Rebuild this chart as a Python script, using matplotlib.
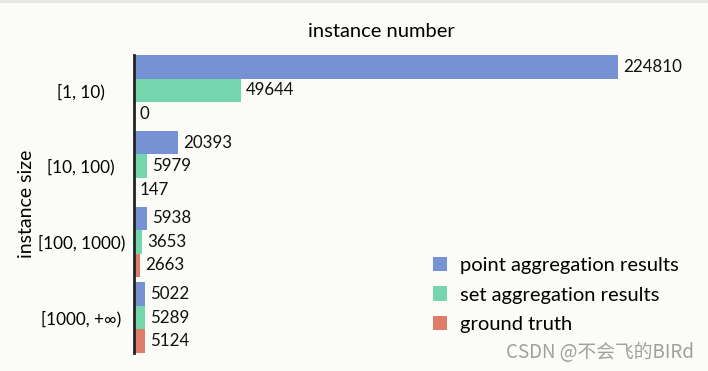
import matplotlib
matplotlib.use("Agg")
import matplotlib.pyplot as plt
import numpy as np
from matplotlib.patches import Patch

categories = ["[1, 10)", "[10, 100)", "[100, 1000)", "[1000, +∞)"]
series_names = ["point aggregation results", "set aggregation results", "ground truth"]
point_vals = [224810, 20393, 5938, 5022]
set_vals = [49644, 5979, 3653, 5289]
truth_vals = [0, 147, 2663, 5124]
colors = ["#7691d4", "#75d5ad", "#df7c6a"]

plt.rcParams['font.family'] = ['Lato', 'DejaVu Sans']

W, H = 708, 371
fig = plt.figure(figsize=(W / 100, H / 100), dpi=100)
fig.patch.set_facecolor("#fbfbf7")
ax = fig.add_axes([134 / W, 1 - 353 / H, (628 - 134) / W, (353 - 55) / H])
ax.set_facecolor("#fbfbf7")

h = 0.311
y = np.arange(len(categories))
all_vals = [point_vals, set_vals, truth_vals]
for k, (vals, c) in enumerate(zip(all_vals, colors)):
    pos = y + (k - 1) * h
    ax.barh(pos, vals, height=h, color=c, edgecolor="none")
    for p, v in zip(pos, vals):
        ax.annotate(f"{v}", xy=(v, p), xytext=(5, 0), textcoords="offset pixels",
                    va="center", ha="left", fontsize=12.2, color="#111111",
                    annotation_clip=False)

ax.set_ylim(3 + 1.5 * h, -1.5 * h)
ax.set_xlim(0, 229455)
ax.set_yticks(y)
ax.set_yticklabels(categories, fontsize=12.3, ha="center")
ax.tick_params(axis="y", length=0, pad=38)
ax.set_xticks([])
for s in ["top", "right", "bottom"]:
    ax.spines[s].set_visible(False)
ax.spines["left"].set_linewidth(2)
ax.spines["left"].set_color("#222222")

ax.set_title("instance number", fontsize=14.5, pad=13)
ax.set_ylabel("instance size", fontsize=14, labelpad=2)

handles = [Patch(facecolor=c, edgecolor="none") for c in colors]
leg = ax.legend(handles, series_names, loc="center left", bbox_to_anchor=(433 / W, 1 - 295 / H),
                bbox_transform=fig.transFigure, frameon=False, fontsize=14.5,
                borderaxespad=0, borderpad=0,
                handlelength=0.7, handleheight=0.7, handletextpad=0.65, labelspacing=0.62)

fig.text(694 / W, 1 - 353 / H, "CSDN @不会飞的BIRd", ha="right", va="center", fontsize=13.5,
         color="#a0a0a0", family=['Noto Sans CJK SC', 'DejaVu Sans'])
fig.patches.append(plt.Rectangle((0, 1 - 3 / H), 1, 3 / H, transform=fig.transFigure,
                                 facecolor="#e6e6e6", edgecolor="none"))

fig.savefig("out.png", dpi=100, facecolor=fig.get_facecolor())
